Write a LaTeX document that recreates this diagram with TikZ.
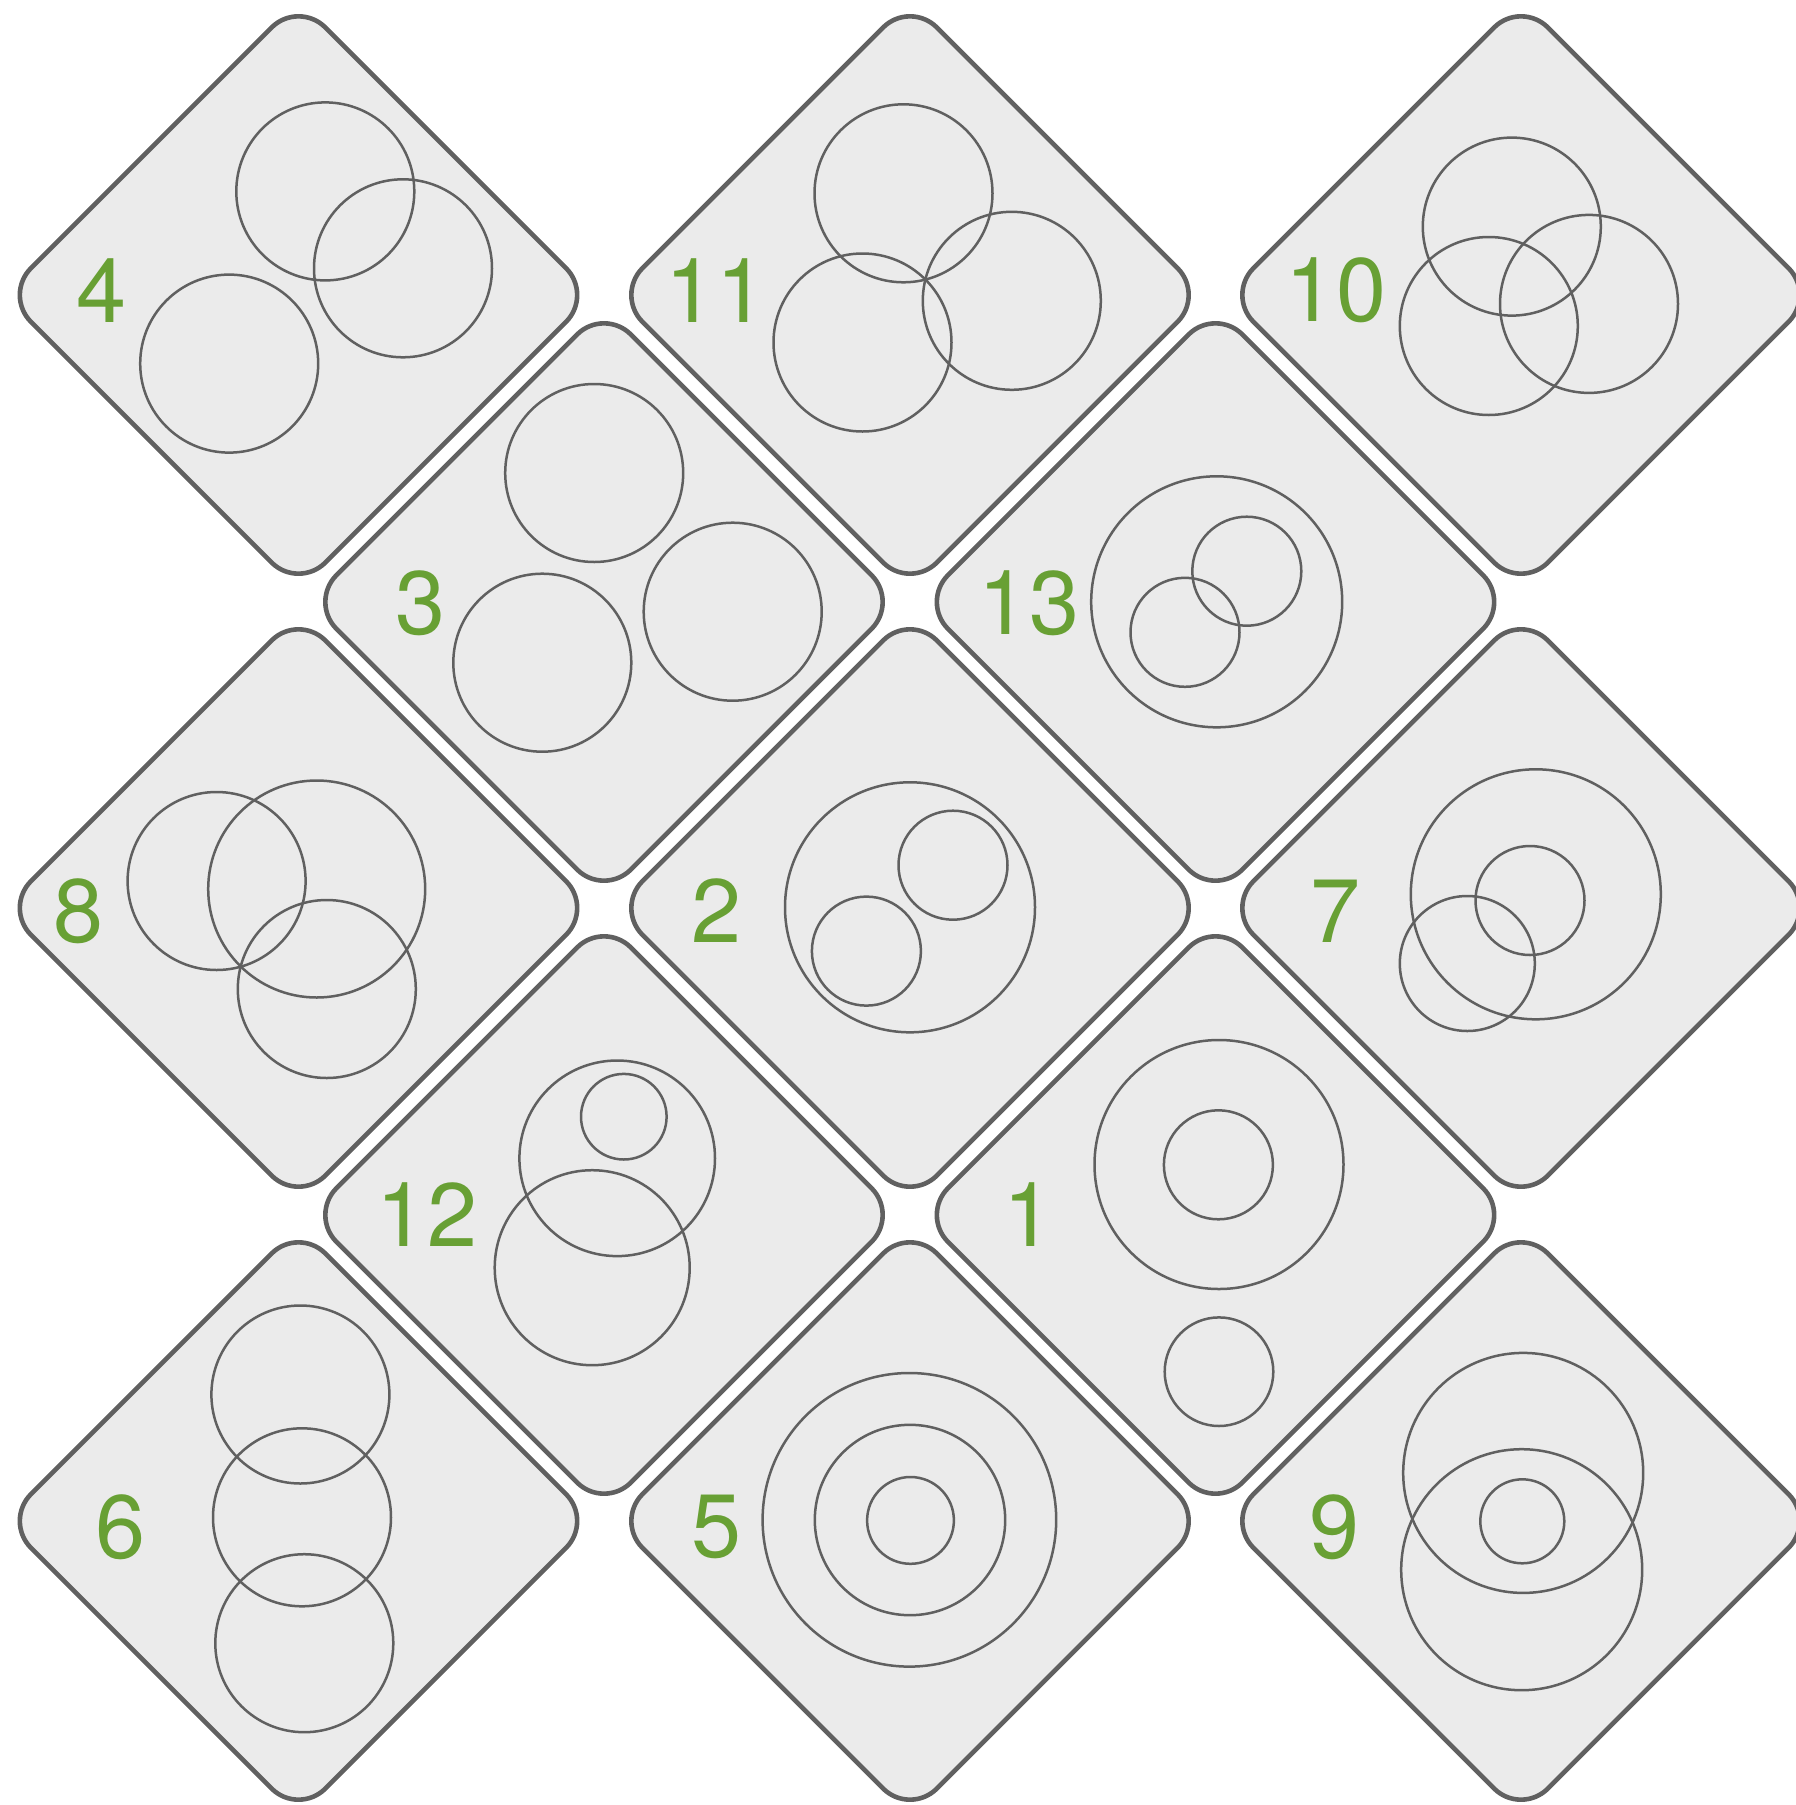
\documentclass[tikz,border=0pt]{standalone}
\usepackage{fontspec}
\setmainfont{TeX Gyre Heros}
\definecolor{tilefill}{RGB}{235,235,235}
\definecolor{tileline}{RGB}{96,96,96}
\definecolor{labgreen}{RGB}{104,160,52}
\tikzset{
  tile/.style={fill=tilefill, draw=tileline, line width=4.6pt, rounded corners=38pt, line join=round},
  ring/.style={draw=tileline, line width=2.5pt},
  lab/.style={text=labgreen, inner sep=0pt, font=\fontsize{90}{100}\selectfont}
}
\begin{document}
\begin{tikzpicture}[x=1pt,y=-1pt]
\useasboundingbox (0,0) rectangle (1796,1805);
\clip (0,0) rectangle (1796,1805);
% tiles
\foreach \cx/\cy in {298.5/295, 910/295, 1521/295,
                     604/602, 1215.5/602,
                     298.5/908, 910/908, 1521/908,
                     604/1215, 1215.5/1215,
                     298.5/1521, 910/1521, 1521/1521}{
  \draw[tile] (\cx,\cy-294.4) -- (\cx+294.4,\cy) -- (\cx,\cy+294.4) -- (\cx-294.4,\cy) -- cycle;
}
% circles
\foreach \x/\y/\r in {
  325.3/191.4/89, 403/268.3/89, 229.2/363.6/89,
  903.5/193.3/89, 1011.8/300.8/89, 862.5/342.5/89,
  1511.8/226.6/89, 1589/303.9/89, 1488.8/326/89,
  594.2/473/89, 542.3/662.7/89, 732.7/611.7/89,
  1216.7/601.8/125.5, 1246.8/571.2/54.5, 1185/632.3/54.5,
  216.6/881/89, 316.7/889/108.5, 326.8/989/89,
  910/907.3/125, 953/865.2/54.5, 866.4/951.1/54.5,
  1535.8/894.3/125, 1530/900.5/54.5, 1467.3/963.5/67.5,
  617.2/1158.3/97.8, 623.8/1116.7/42.8, 592.2/1267.7/97.5,
  1219/1164.5/124.5, 1218.4/1164.8/54.5, 1219/1371.7/54.3,
  300.4/1394.5/89, 302/1517.3/89, 304.3/1643.2/89,
  909.4/1519.8/146.8, 910/1520/95.2, 910.5/1520.4/43.4,
  1523.2/1472.9/120, 1521.7/1569.7/120.5, 1522.3/1521.3/42}{
  \draw[ring] (\x,\y) circle[radius=\r];
}
% labels
\node[lab] (l4)  at (102,290.5) {4};
\node[lab] (l11) at (716,290.5) {11};
\node[lab] (l10) at (1336,290.5) {10};
\node[lab] (l3)  at (420.8,603.3) {3};
\node[lab] (l13) at (1029,603) {13};
\node[lab] (l8)  at (78.5,911) {8};
\node[lab] (l2)  at (716.7,910.8) {2};
\node[lab] (l7)  at (1335.7,911) {7};
\node[lab] (l12) at (427,1215) {12};
\node[lab] (l1)  at (1029,1215) {1};
\node[lab] (l6)  at (121,1527) {6};
\node[lab] (l5)  at (716.7,1527) {5};
\node[lab] (l9)  at (1335,1527) {9};
\end{tikzpicture}
\end{document}
